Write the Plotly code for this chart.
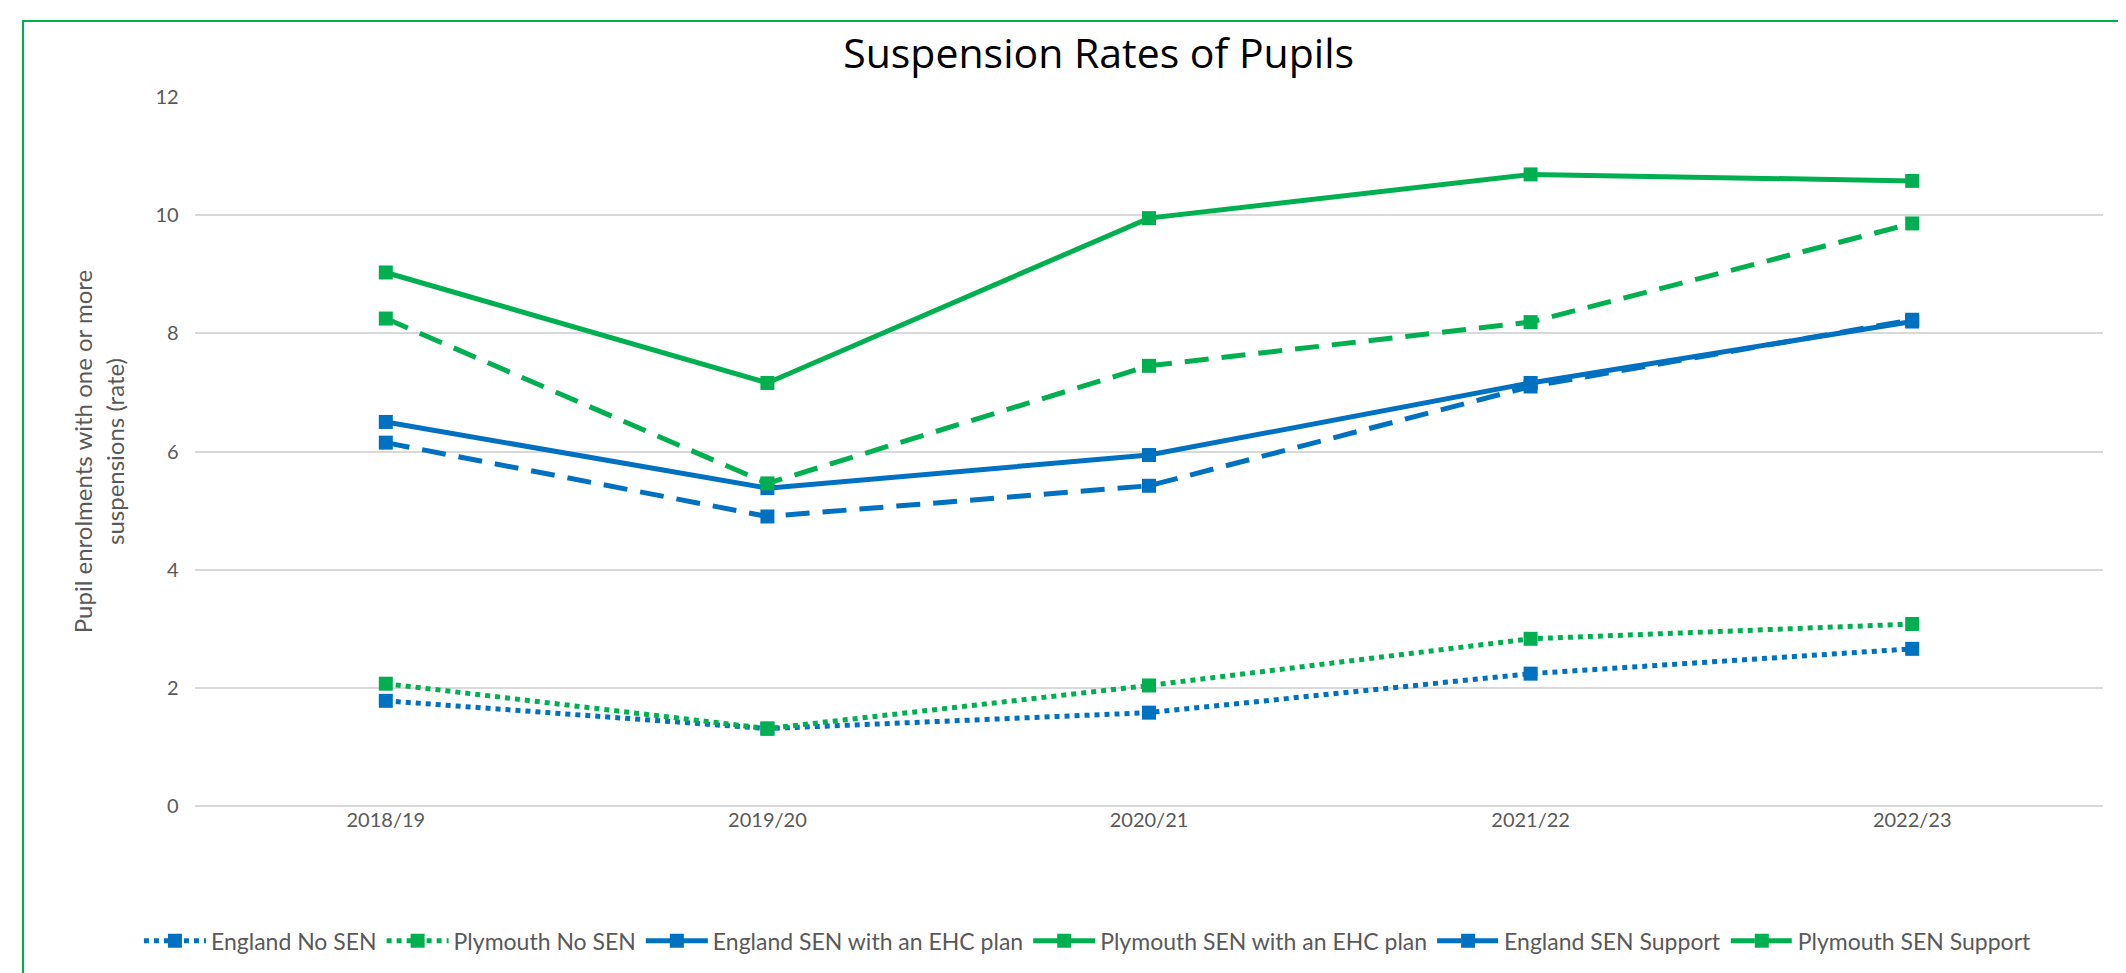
import plotly.graph_objects as go

years = ["2018/19", "2019/20", "2020/21", "2021/22", "2022/23"]

england_no_sen = [1.78, 1.31, 1.58, 2.24, 2.66]
plymouth_no_sen = [2.07, 1.31, 2.04, 2.83, 3.08]
england_ehc = [6.50, 5.38, 5.94, 7.16, 8.20]
plymouth_ehc = [9.03, 7.16, 9.95, 10.69, 10.58]
england_support = [6.15, 4.90, 5.42, 7.10, 8.23]
plymouth_support = [8.25, 5.46, 7.45, 8.19, 9.86]

BLUE = "#0070c0"
GREEN = "#00b050"
GREY = "#595959"

series = [
    ("England No SEN", england_no_sen, BLUE, "dot"),
    ("Plymouth No SEN", plymouth_no_sen, GREEN, "dot"),
    ("England SEN with an EHC plan", england_ehc, BLUE, "solid"),
    ("Plymouth SEN with an EHC plan", plymouth_ehc, GREEN, "solid"),
    ("England SEN Support", england_support, BLUE, "24px,13px"),
    ("Plymouth SEN Support", plymouth_support, GREEN, "24px,13px"),
]

fig = go.Figure()
for name, values, color, dash in series:
    fig.add_trace(
        go.Scatter(
            x=years,
            y=values,
            mode="lines+markers",
            name=name,
            line={"color": color, "width": 5, "dash": dash},
            marker={"symbol": "square", "size": 14, "color": color},
        )
    )

# plot area in pixels: x 187..2095, y 89..798
fig.update_layout(
    width=2126,
    height=973,
    margin={"l": 187, "r": 31, "t": 89, "b": 175},
    paper_bgcolor="white",
    plot_bgcolor="white",
    font={"family": "Lato, sans-serif", "color": GREY, "size": 20},
    title={
        "text": "Suspension Rates of Pupils",
        "font": {"family": "Open Sans, sans-serif", "size": 41, "color": "black"},
        "x": 0.513,
        "xanchor": "center",
        "y": 0.953,
        "yanchor": "middle",
    },
    legend={
        "orientation": "h",
        "x": 0.468,
        "xanchor": "center",
        "y": -0.19,
        "yanchor": "middle",
        "font": {"size": 23, "color": GREY},
        "itemwidth": 62,
        "tracegroupgap": 0,
    },
    xaxis={
        "type": "category",
        "range": [-0.5, 4.5],
        "showgrid": False,
        "showline": False,
        "ticks": "",
        "tickfont": {"size": 20},
    },
    yaxis={
        "range": [0, 12],
        "dtick": 2,
        "showgrid": True,
        "gridcolor": "#d9d9d9",
        "gridwidth": 1.5,
        "zeroline": True,
        "zerolinecolor": "#d9d9d9",
        "zerolinewidth": 1.5,
        "showline": False,
        "ticks": "",
        "ticksuffix": "   ",
        "tickfont": {"size": 20},
        "title": {
            "text": "Pupil enrolments with one or more<br>suspensions (rate)",
            "font": {"size": 24, "color": GREY},
            "standoff": 24,
        },
    },
    shapes=[
        {
            "type": "rect",
            "xref": "paper",
            "yref": "paper",
            "x0": (15 - 187) / 1908,
            "x1": (2121 - 187) / 1908,
            "y0": (798 - 990) / 709,
            "y1": (798 - 13) / 709,
            "line": {"color": GREEN, "width": 2},
            "layer": "below",
        }
    ],
)

fig.write_html("out.html")
